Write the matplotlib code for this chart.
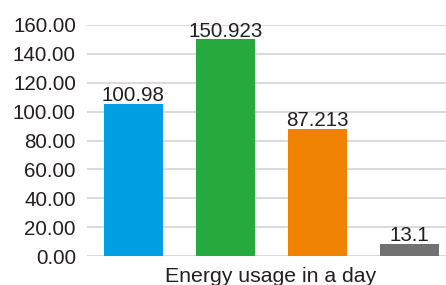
import matplotlib.pyplot as plt
import numpy as np

# bar heights as drawn, and the value labels printed on them
heights = [105.3, 150.3, 88.0, 8.4]
labels = ['100.98', '150.923', '87.213', '13.1']
colors = ['#009FE3', '#26AA3D', '#EF8200', '#717171']
yticks = [0, 20, 40, 60, 80, 100, 120, 140, 160]
xlabel = 'Energy usage in a day'

plt.rcParams['font.family'] = ['Liberation Sans', 'DejaVu Sans']
txt = '#231F20'
fs = 14.8

fig = plt.figure(figsize=(4.46, 2.85), dpi=100)
ax = fig.add_axes([87/446, 29/285, (455.5-86.5)/446, 231/285])

x = np.arange(len(heights))
ax.bar(x, heights, width=0.64, color=colors, zorder=3)
for xi, h, lab in zip(x, heights, labels):
    ax.annotate(lab, (xi, h), xytext=(0, 2.5), textcoords='offset pixels',
                ha='center', va='baseline', fontsize=fs, color=txt, zorder=4)

ax.set_xlim(-0.5, 3.5)
ax.set_ylim(0, 160)
ax.set_yticks(yticks)
ax.set_yticklabels(['%.2f' % v for v in yticks])
ax.set_xticks([])
ax.tick_params(axis='y', length=0, pad=8, labelsize=fs, labelcolor=txt)
ax.grid(axis='y', color='#D4D4D4', linewidth=1.2, zorder=0)
for s in ax.spines.values():
    s.set_visible(False)
fig.text(271/446, 3.5/285, xlabel, ha='center', va='baseline',
         fontsize=15.3, color=txt)

plt.savefig('out.png', dpi=100)
